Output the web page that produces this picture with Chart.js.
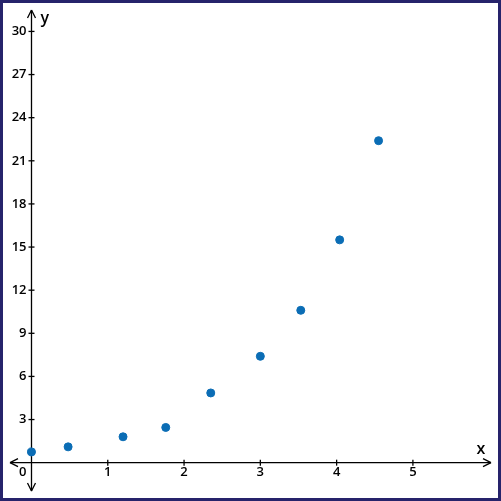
<!DOCTYPE html>
<html>
<head>
<script src="https://cdn.jsdelivr.net/npm/chart.js@4"></script>
<style>
  body { margin: 0; background: #fff; }
  #box { width: 501px; height: 501px; box-sizing: border-box; border: 3px solid #26236b; }
</style>
</head>
<body>
<div id="box"><canvas id="myChart" width="495" height="495"></canvas></div>
<script>
// dados
const xValores = [0, 0.48, 1.2, 1.76, 2.35, 3.0, 3.53, 4.04, 4.55];
const yValores = [0.75, 1.1, 1.8, 2.45, 4.85, 7.4, 10.6, 15.5, 22.4];
const xTicks = [1, 2, 3, 4, 5];
const yTicks = [3, 6, 9, 12, 15, 18, 21, 24, 27, 30];

const pontos = xValores.map((x, i) => ({ x: x, y: yValores[i] }));

// desenha os eixos com setas, marcas e rótulos
const eixos = {
  id: 'eixos',
  beforeDatasetsDraw(chart) {
    const c = chart.ctx, sx = chart.scales.x, sy = chart.scales.y;
    const x0 = sx.getPixelForValue(0), y0 = sy.getPixelForValue(0);
    const L = sx.left + 2, R = sx.right - 2, T = sy.top + 2, B = sy.bottom - 2;
    c.save();
    c.strokeStyle = '#000'; c.fillStyle = '#000'; c.lineWidth = 1.3;
    c.beginPath();
    c.moveTo(L, y0); c.lineTo(R, y0);
    c.moveTo(x0, T); c.lineTo(x0, B);
    c.stroke();
    function seta(x, y, dx, dy) {
      c.beginPath();
      c.moveTo(x, y);
      c.lineTo(x - dx * 8 + dy * 4, y - dy * 8 + dx * 4);
      c.moveTo(x, y);
      c.lineTo(x - dx * 8 - dy * 4, y - dy * 8 - dx * 4);
      c.stroke();
    }
    seta(R, y0, 1, 0); seta(L, y0, -1, 0); seta(x0, T, 0, -1); seta(x0, B, 0, 1);
    c.font = '600 13px "Open Sans"';
    c.textAlign = 'center'; c.textBaseline = 'top';
    xTicks.forEach(v => {
      const p = sx.getPixelForValue(v);
      c.beginPath(); c.moveTo(p, y0 - 3); c.lineTo(p, y0 + 3); c.stroke();
      c.fillText(String(v), p, y0 + 3);
    });
    c.textAlign = 'right'; c.textBaseline = 'middle';
    yTicks.forEach(v => {
      const p = sy.getPixelForValue(v);
      c.beginPath(); c.moveTo(x0 - 3, p); c.lineTo(x0 + 3, p); c.stroke();
      c.fillText(String(v), x0 - 5, p);
    });
    c.textAlign = 'right'; c.textBaseline = 'top';
    c.fillText('0', x0 - 5, y0 + 3);
    c.font = '600 16px "Open Sans"';
    c.textAlign = 'left'; c.textBaseline = 'middle';
    c.fillText('y', x0 + 9, sy.top + 10);
    c.textAlign = 'center';
    c.fillText('x', R - 10, y0 - 13);
    c.restore();
  }
};

new Chart(document.getElementById('myChart'), {
  type: 'scatter',
  data: {
    datasets: [{
      data: pontos,
      backgroundColor: '#0b6db5',
      borderColor: '#0b6db5',
      pointRadius: 4,
      pointHoverRadius: 4
    }]
  },
  options: {
    responsive: false,
    animation: false,
    layout: { padding: 0 },
    plugins: { legend: { display: false }, tooltip: { enabled: false } },
    scales: {
      x: { type: 'linear', min: -0.308, max: 6.05, display: false },
      y: { type: 'linear', min: -2.11, max: 31.63, display: false }
    }
  },
  plugins: [eixos]
});
</script>
</body>
</html>
